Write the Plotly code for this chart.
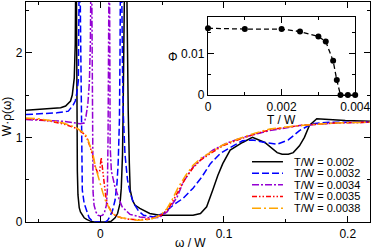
import plotly.graph_objects as go

# ---------------- main panel data (omega/W, W*rho) ----------------
w_a = [-0.06, -0.05, -0.04, -0.032, -0.028, -0.024, -0.0226, -0.021, -0.0202, -0.0198, -0.0195, -0.0192,
       -0.019, -0.0185, -0.018, -0.0175, -0.017, -0.016, -0.015, -0.013, -0.011, -0.008, -0.005, 0.006,
       0.009, 0.012, 0.014, 0.016, 0.017, 0.018, 0.0185, 0.019, 0.0198, 0.0205, 0.0213, 0.022, 0.0226,
       0.0235, 0.0242, 0.026, 0.028, 0.032, 0.04, 0.048, 0.065, 0.075, 0.081, 0.086, 0.091, 0.095, 0.099,
       0.105, 0.115, 0.123, 0.133, 0.138, 0.143, 0.147, 0.152, 0.156, 0.161, 0.165, 0.169, 0.175, 0.185,
       0.198, 0.218]
rho_a = [1.32, 1.33, 1.34, 1.35, 1.37, 1.43, 1.50, 1.70, 2.10, 2.8, 3.5, 2.6,
         1.5, 0.6, 0.32, 0.22, 0.17, 0.12, 0.09, 0.05, 0.03, 0.01, 0.0, 0.0,
         0.01, 0.05, 0.1, 0.22, 0.4, 0.8, 1.32, 2.0, 3.2, 4.0, 3.0, 1.8, 1.32,
         0.7, 0.38, 0.26, 0.2, 0.16, 0.1, 0.08, 0.076, 0.08, 0.1, 0.18, 0.38, 0.55, 0.69,
         0.85, 0.94, 1.0, 0.94, 0.88, 0.82, 0.8, 0.8, 0.82, 0.9, 1.0, 1.14, 1.22, 1.21,
         1.2, 1.19]

w_b = [-0.06, -0.045, -0.035, -0.0258, -0.0242, -0.022, -0.0202, -0.019, -0.0177, -0.0172, -0.0167,
       -0.016, -0.0155, -0.015, -0.0145, -0.013, -0.011, -0.009, -0.007, -0.005, 0.004, 0.006, 0.008,
       0.010, 0.012, 0.0135, 0.0145, 0.0155, 0.016, 0.0165, 0.0172, 0.018, 0.0185, 0.02, 0.022, 0.024,
       0.027, 0.031, 0.035, 0.043, 0.051, 0.059, 0.067, 0.075, 0.082, 0.089, 0.097, 0.105, 0.115, 0.123,
       0.133, 0.143, 0.152, 0.161, 0.171, 0.185, 0.218]
rho_b = [1.27, 1.28, 1.29, 1.31, 1.34, 1.38, 1.43, 1.52, 1.67, 2.4, 3.5,
         2.4, 1.3, 0.6, 0.38, 0.22, 0.12, 0.05, 0.02, 0.0, 0.0, 0.02, 0.07,
         0.14, 0.26, 0.45, 0.7, 1.2, 2.0, 3.5, 3.0, 1.8, 1.32, 0.8, 0.5, 0.35,
         0.22, 0.13, 0.08, 0.06, 0.1, 0.2, 0.28, 0.4, 0.53, 0.69, 0.81, 0.88, 0.96, 0.97,
         0.94, 0.92, 0.97, 1.08, 1.16, 1.18, 1.18]

w_c = [-0.06, -0.045, -0.03, -0.02, -0.016, -0.013, -0.0115, -0.01, -0.0088, -0.008, -0.0072, -0.0066,
       -0.0062, -0.0058, -0.005, -0.0035, -0.002, 0.0, 0.002, 0.0035, 0.005, 0.0058, 0.0063, 0.0068,
       0.0073, 0.0078, 0.008, 0.009, 0.012, 0.015, 0.0177, 0.024, 0.032, 0.04, 0.048, 0.054, 0.058,
       0.062, 0.067, 0.075, 0.083, 0.091, 0.102, 0.113, 0.137, 0.161, 0.19, 0.218]
rho_c = [1.21, 1.2, 1.19, 1.17, 1.16, 1.17, 1.25, 1.4, 1.65, 2.1, 3.5, 2.2,
         0.9, 0.35, 0.2, 0.12, 0.08, 0.07, 0.08, 0.12, 0.2, 0.4, 1.0, 2.5,
         3.5, 1.8, 0.9, 0.6, 0.41, 0.28, 0.18, 0.09, 0.06, 0.05, 0.055, 0.12, 0.2,
         0.29, 0.47, 0.65, 0.76, 0.85, 0.93, 0.99, 1.08, 1.14, 1.17, 1.18]

w_d = [-0.06, -0.05, -0.04, -0.03, -0.02, -0.016, -0.013, -0.0105, -0.008, -0.0056, -0.004, -0.002,
       -0.0005, 0.0008, 0.002, 0.003, 0.0045, 0.006, 0.008, 0.01, 0.013, 0.017, 0.022, 0.03, 0.04, 0.046,
       0.05, 0.054, 0.058, 0.063, 0.069, 0.075, 0.081, 0.089, 0.099, 0.113, 0.125, 0.137, 0.161, 0.19,
       0.218]
rho_d = [1.22, 1.21, 1.19, 1.16, 1.11, 1.07, 1.04, 0.98, 0.88, 0.75, 0.65, 0.58,
         0.6, 0.76, 0.62, 0.45, 0.3, 0.2, 0.14, 0.1, 0.07, 0.05, 0.035, 0.025, 0.035, 0.06,
         0.09, 0.14, 0.23, 0.37, 0.52, 0.64, 0.73, 0.81, 0.9, 0.98, 1.04, 1.09, 1.14, 1.17,
         1.18]

w_e = [-0.06, -0.05, -0.04, -0.03, -0.02, -0.016, -0.013, -0.0105, -0.008, -0.0056, -0.004, -0.002,
       0.0, 0.002, 0.004, 0.006, 0.008, 0.01, 0.013, 0.017, 0.022, 0.03, 0.04, 0.046, 0.05, 0.054, 0.058,
       0.063, 0.069, 0.075, 0.081, 0.089, 0.099, 0.113, 0.125, 0.137, 0.161, 0.19, 0.218]
rho_e = [1.23, 1.22, 1.2, 1.17, 1.12, 1.08, 1.05, 1.0, 0.9, 0.78, 0.66, 0.55,
         0.45, 0.35, 0.26, 0.19, 0.14, 0.1, 0.07, 0.05, 0.035, 0.02, 0.03, 0.06, 0.1, 0.16, 0.26,
         0.41, 0.55, 0.67, 0.75, 0.82, 0.91, 0.99, 1.05, 1.1, 1.14, 1.17, 1.18]

series_labels = ["T/W = 0.002", "T/W = 0.0032", "T/W = 0.0034", "T/W = 0.0035", "T/W = 0.0038"]
series_w = [w_a, w_b, w_c, w_d, w_e]
series_rho = [rho_a, rho_b, rho_c, rho_d, rho_e]

# ---------------- inset data ----------------
inset_T = [0.0, 0.001, 0.002, 0.0025, 0.003, 0.0032, 0.0034, 0.0035, 0.0036, 0.0038, 0.004]
inset_phi = [0.016, 0.0158, 0.0158, 0.0152, 0.014, 0.0128, 0.0082, 0.0036, 0.0, 0.0, 0.0]

colors = ["#000000", "#0000ff", "#9400d3", "#ff0000", "#ffa500"]
dashes = ["solid", "7px,3px", "7px,2px,2px,2px", "5px,2px,1.5px,2px,1.5px,2px", "9px,3px,2px,3px"]

FONT = "Liberation Sans, Arial, Helvetica, sans-serif"

fig = go.Figure()
for w, r, lab, c, d in zip(series_w, series_rho, series_labels, colors, dashes):
    fig.add_trace(go.Scatter(x=w, y=r, mode="lines", name=lab, showlegend=False,
                             line=dict(color=c, width=1.5, dash=d), xaxis="x", yaxis="y"))

fig.add_trace(go.Scatter(x=inset_T, y=inset_phi, mode="lines+markers", showlegend=False,
                         line=dict(color="black", width=1.3, dash="5px,3px"),
                         marker=dict(color="black", size=6), xaxis="x2", yaxis="y2", cliponaxis=False))

axis_common = dict(showline=True, linecolor="black", linewidth=1.2, mirror="ticks", automargin=False,
                   ticks="inside", ticklen=6, tickcolor="black", tickwidth=1.2,
                   showgrid=False, zeroline=False, tickfont=dict(size=12, color="black"))

fig.update_layout(
    template="none",
    width=374, height=249,
    margin=dict(l=26, r=4, t=2, b=27, autoexpand=False),
    paper_bgcolor="white", plot_bgcolor="white",
    font=dict(family=FONT, size=12, color="black"),
    xaxis=dict(domain=[0, 1], range=[-0.06, 0.218], tickvals=[0, 0.1, 0.2], ticktext=["0", "0.1", "0.2"],
               minor=dict(ticks="inside", ticklen=3, tickvals=[-0.05, 0.05, 0.15], tickcolor="black"),
               **axis_common),
    yaxis=dict(domain=[0, 1], range=[0, 2.6], tickvals=[0, 1, 2],
               minor=dict(ticks="inside", ticklen=3, tickvals=[0.5, 1.5, 2.5], tickcolor="black"),
               **axis_common),
    xaxis2=dict(domain=[0.529, 0.957], anchor="y2", side="bottom", ticklabelposition="outside",
                range=[0, 0.004], tickvals=[0, 0.002, 0.004], ticktext=["0", "0.002", "0.004"],
                minor=dict(ticks="inside", ticklen=3, tickvals=[0.001, 0.003], tickcolor="black"),
                **axis_common),
    yaxis2=dict(domain=[0.577, 0.932], anchor="x2", side="left", ticklabelposition="outside",
                range=[0, 0.0187], tickvals=[0, 0.01], ticktext=["0", "0.01"],
                minor=dict(ticks="inside", ticklen=3, tickvals=[0.005, 0.015], tickcolor="black"),
                **axis_common),
)

# axis titles
fig.add_annotation(text="ω / W", xref="paper", yref="paper", x=0.477, y=-0.095, xanchor="center",
                   yanchor="middle", showarrow=False, font=dict(size=12))
fig.add_annotation(text="W·ρ(ω)", xref="paper", yref="paper", x=-0.053, y=0.48, xanchor="center",
                   yanchor="middle", textangle=-90, showarrow=False, font=dict(size=12))
fig.add_annotation(text="T / W", xref="paper", yref="paper", x=0.744, y=0.463, xanchor="center",
                   yanchor="middle", showarrow=False, font=dict(size=12))
fig.add_annotation(text="Φ", xref="paper", yref="paper", x=0.427, y=0.75, xanchor="center",
                   yanchor="middle", showarrow=False, font=dict(size=12))

# legend drawn as text annotations with line samples
leg_y = [0.274, 0.222, 0.169, 0.116, 0.063]
for lab, c, d, yy in zip(series_labels, colors, dashes, leg_y):
    fig.add_shape(type="line", xref="paper", yref="paper", x0=0.657, x1=0.747, y0=yy, y1=yy,
                  line=dict(color=c, width=1.5, dash=d))
    fig.add_annotation(text=lab, xref="paper", yref="paper", x=0.772, y=yy, xanchor="left",
                       yanchor="middle", showarrow=False, font=dict(size=11, color="black"))

fig.write_html("out.html", config={"displayModeBar": False},
               post_script="document.body.style.margin='0px';")
